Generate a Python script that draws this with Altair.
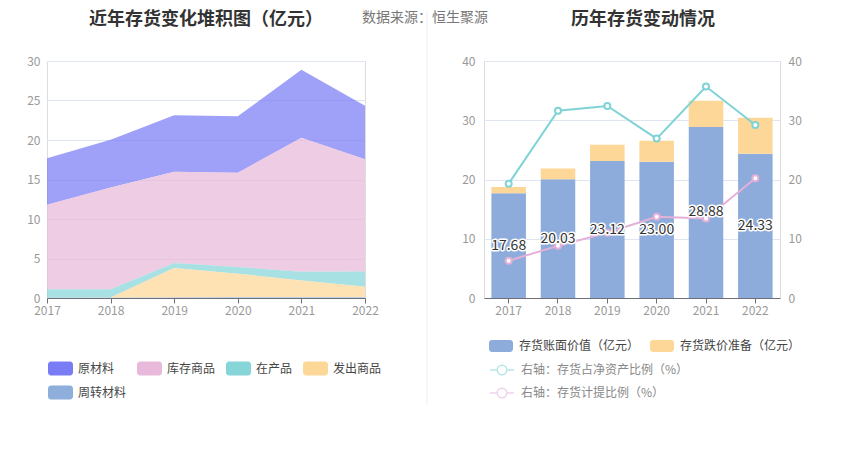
import altair as alt
import pandas as pd

FONT = "Noto Sans CJK SC"

# ---------------- data ----------------
years = ["2017", "2018", "2019", "2020", "2021", "2022"]

# left chart: inventory composition (亿元)
series_names = ["原材料", "库存商品", "在产品", "发出商品", "周转材料"]
raw_material = [5.88, 6.03, 7.15, 7.15, 8.58, 6.76]
finished_goods = [10.70, 12.90, 11.55, 11.93, 16.97, 14.20]
work_in_progress = [1.08, 1.05, 0.62, 0.84, 1.10, 1.94]
goods_shipped = [0.00, 0.02, 3.74, 2.98, 2.13, 1.35]
turnover_material = [0.02, 0.03, 0.06, 0.10, 0.10, 0.08]
series_colors = ["#7a7cf5", "#e8b9da", "#86d6d9", "#fdd797", "#8eaedb"]
stack_rank = [4, 3, 2, 1, 0]

# right chart
bar_names = ["存货账面价值（亿元）", "存货跌价准备（亿元）"]
book_value = [17.68, 20.03, 23.12, 23.00, 28.88, 24.33]
impairment = [1.05, 1.82, 2.76, 3.55, 4.40, 6.09]
bar_colors = ["#8eacdb", "#fdd797"]

line_names = ["右轴：存货占净资产比例（%）", "右轴：存货计提比例（%）"]
ratio_net_assets = [19.3, 31.6, 32.4, 26.9, 35.7, 29.2]
ratio_provision = [6.3, 8.8, 11.0, 13.7, 13.4, 20.2]
line_colors = ["#7fd3d6", "#e5b0d8"]

left_title = ["近年存货变化堆积图（亿元）"]
right_title = ["历年存货变动情况"]
source_text = ["数据来源：恒生聚源"]

# ---------------- tables ----------------
left_rows = []
for name, vals, rank in zip(series_names,
                            [raw_material, finished_goods, work_in_progress,
                             goods_shipped, turnover_material], stack_rank):
    for yr, v in zip(years, vals):
        left_rows.append({"year": yr, "series": name, "value": v, "rank": rank})
df_left = pd.DataFrame(left_rows)

bar_rows = []
for i, (name, vals) in enumerate(zip(bar_names, [book_value, impairment])):
    for yr, v in zip(years, vals):
        bar_rows.append({"year": yr, "series": name, "value": v, "rank": i})
df_bar = pd.DataFrame(bar_rows)

df_label = pd.DataFrame({"year": years, "value": book_value})

line_rows = []
for name, vals in zip(line_names, [ratio_net_assets, ratio_provision]):
    for yr, v in zip(years, vals):
        line_rows.append({"year": yr, "series": name, "value": v})
df_line = pd.DataFrame(line_rows)

df_ltitle = pd.DataFrame({"t": left_title})
df_rtitle = pd.DataFrame({"t": right_title})
df_src = pd.DataFrame({"t": source_text})
df_div = pd.DataFrame({"d": [0]})

# ---------------- symbols ----------------
RECT_L = "M-0.76,-0.56 H0.76 A0.24,0.24 0 0 1 1,-0.32 V0.32 A0.24,0.24 0 0 1 0.76,0.56 H-0.76 A0.24,0.24 0 0 1 -1,0.32 V-0.32 A0.24,0.24 0 0 1 -0.76,-0.56 Z"
RECT_R = "M-0.76,-0.5 H0.76 A0.24,0.24 0 0 1 1,-0.26 V0.26 A0.24,0.24 0 0 1 0.76,0.5 H-0.76 A0.24,0.24 0 0 1 -1,0.26 V-0.26 A0.24,0.24 0 0 1 -0.76,-0.5 Z"
LINE_SYM = "M-1,0 H-0.4 A0.4,0.4 0 1 1 0.4,0 A0.4,0.4 0 1 1 -0.4,0 M0.4,0 H1"

W_L, W_R, H = 318, 296, 237
TOP_Y = -50

# ---------------- left chart ----------------
area = alt.Chart(df_left).mark_area(opacity=0.72, interpolate="linear").encode(
    x=alt.X("year:O", scale=alt.Scale(type="point", padding=0),
            axis=alt.Axis(title=None, labelAngle=0, domainColor="#6e7079",
                          tickColor="#6e7079", tickSize=5, labelPadding=2,
                          labelColor="#999999", labelFontSize=12, labelFont=FONT)),
    y=alt.Y("value:Q", stack="zero", scale=alt.Scale(domain=[0, 30]),
            axis=alt.Axis(title=None, values=[0, 5, 10, 15, 20, 25, 30],
                          domain=False, ticks=False, labelPadding=7,
                          labelColor="#999999", labelFontSize=12, labelFont=FONT,
                          gridColor="#e0e6f1")),
    color=alt.Color("series:N",
                    scale=alt.Scale(domain=series_names, range=series_colors),
                    legend=alt.Legend(title=None, orient="none", legendX=1, legendY=295,
                                      direction="horizontal", columns=4, gridAlign="none",
                                      columnPadding=10, rowPadding=4, padding=0,
                                      symbolType=RECT_L, symbolSize=625,
                                      symbolOpacity=1, symbolStrokeWidth=0,
                                      labelOffset=5, labelFontSize=12, labelFont=FONT,
                                      labelLimit=300, labelColor="#444444")),
    order=alt.Order("rank:Q"),
)

ltitle = alt.Chart(df_ltitle).mark_text(align="center", baseline="top", fontSize=18,
                                        fontWeight="bold", font=FONT,
                                        color="#333333").encode(
    text="t:N", x=alt.value(159), y=alt.value(TOP_Y))

src = alt.Chart(df_src).mark_text(align="left", baseline="top", fontSize=14,
                                  font=FONT, color="#777777").encode(
    text="t:N", x=alt.value(315), y=alt.value(TOP_Y))

divider = alt.Chart(df_div).mark_rule(color="#eeeeee", strokeWidth=1).encode(
    x=alt.value(380), y=alt.value(-50), y2=alt.value(344))

left = alt.layer(area, divider, src, ltitle).properties(width=W_L, height=H)

# ---------------- right chart ----------------
xband = alt.X("year:N", scale=alt.Scale(paddingInner=0.3, paddingOuter=0.15),
              axis=alt.Axis(title=None, labelAngle=0, domainColor="#6e7079",
                            tickColor="#6e7079", tickSize=5, labelPadding=2,
                            labelColor="#999999", labelFontSize=12, labelFont=FONT))

bars = alt.Chart(df_bar).mark_bar().encode(
    x=xband,
    y=alt.Y("value:Q", stack="zero", scale=alt.Scale(domain=[0, 40]),
            axis=alt.Axis(title=None, values=[0, 10, 20, 30, 40], domain=False,
                          ticks=False, labelPadding=9, labelColor="#999999",
                          labelFontSize=12, labelFont=FONT, gridColor="#e0e6f1")),
    color=alt.Color("series:N", scale=alt.Scale(domain=bar_names, range=bar_colors),
                    legend=alt.Legend(title=None, orient="none", legendX=5, legendY=273,
                                      direction="horizontal", columns=2, gridAlign="none",
                                      columnPadding=10, padding=0,
                                      symbolType=RECT_R, symbolSize=576,
                                      symbolStrokeWidth=0, labelOffset=6,
                                      labelFontSize=12, labelFont=FONT, labelLimit=300,
                                      labelColor="#444444")),
    order=alt.Order("rank:Q"),
)

line_legend = alt.Legend(title=None, orient="none", legendX=5, legendY=296,
                         direction="vertical", rowPadding=2, padding=0,
                         symbolType=LINE_SYM, symbolSize=576, symbolStrokeWidth=1.5,
                         symbolFillColor="white", symbolOpacity=0.55,
                         labelOffset=6, labelFontSize=12, labelFont=FONT,
                         labelLimit=300, labelColor="#888888")

lines = alt.Chart(df_line).mark_line(strokeWidth=2).encode(
    x=xband,
    y=alt.Y("value:Q", scale=alt.Scale(domain=[0, 40]),
            axis=alt.Axis(title=None, orient="right", values=[0, 10, 20, 30, 40],
                          domain=False, ticks=False, grid=False, labelPadding=8,
                          labelColor="#999999", labelFontSize=12, labelFont=FONT)),
    stroke=alt.Stroke("series:N", scale=alt.Scale(domain=line_names, range=line_colors),
                      legend=line_legend),
)

points = alt.Chart(df_line).mark_point(shape="circle", size=36, fill="white",
                                       fillOpacity=1, strokeWidth=2, opacity=1).encode(
    x=xband,
    y=alt.Y("value:Q", scale=alt.Scale(domain=[0, 40]), axis=None),
    stroke=alt.Stroke("series:N", scale=alt.Scale(domain=line_names, range=line_colors),
                      legend=line_legend),
)

lab_base = alt.Chart(df_label).transform_calculate(
    mid="datum.value / 2", txt="format(datum.value, '.2f')")
halo = lab_base.mark_text(fontSize=14, font=FONT, color="white", stroke="white",
                          strokeWidth=3, strokeJoin="round").encode(
    x=xband, y=alt.Y("mid:Q", scale=alt.Scale(domain=[0, 40]), axis=None), text="txt:N")
labels = lab_base.mark_text(fontSize=14, font=FONT, color="#333333").encode(
    x=xband, y=alt.Y("mid:Q", scale=alt.Scale(domain=[0, 40]), axis=None), text="txt:N")

rtitle = alt.Chart(df_rtitle).mark_text(align="center", baseline="top", fontSize=18,
                                        fontWeight="bold", font=FONT,
                                        color="#333333").encode(
    text="t:N", x=alt.value(159), y=alt.value(TOP_Y))

right = alt.layer(bars, lines, points, halo, labels, rtitle).resolve_scale(
    y="independent").properties(width=W_R, height=H)

chart = alt.hconcat(left, right, spacing=119, bounds="flush").resolve_scale(
    color="independent", stroke="independent").resolve_legend(
    color="independent", stroke="independent").properties(
    padding={"left": 18, "top": 2, "right": 0, "bottom": 0},
).configure_view(stroke=None).configure(font=FONT)

chart.save("out.html", embed_options={"renderer": "svg", "actions": False})
